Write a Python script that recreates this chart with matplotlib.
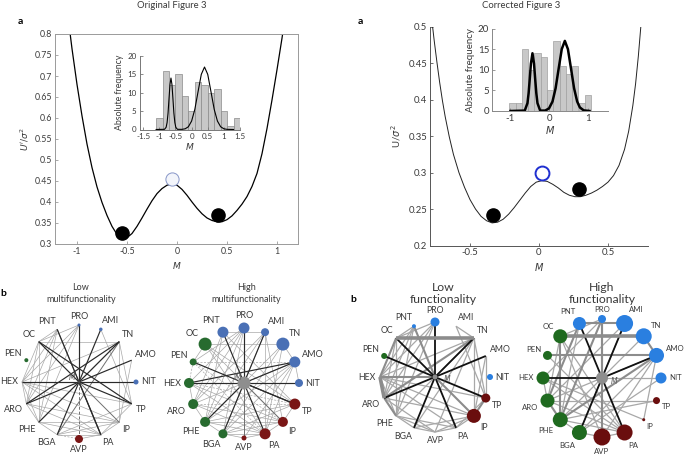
import matplotlib
matplotlib.use('Agg')
import matplotlib.pyplot as plt
from matplotlib.patches import Circle
import numpy as np

plt.rcParams['font.family'] = ['Lato', 'DejaVu Sans']
plt.rcParams['axes.unicode_minus'] = False
plt.rcParams['mathtext.fontset'] = 'dejavusans'

TXT = '#3a3a3a'

# ---------------- panel a data ----------------
orig_M = [-1.10, -1.05, -1.00, -0.95, -0.90, -0.85, -0.80, -0.75, -0.70, -0.65, -0.60,
          -0.55, -0.50, -0.45, -0.40, -0.35, -0.30, -0.25, -0.20, -0.15, -0.10, -0.05,
          0.00, 0.05, 0.10, 0.15, 0.20, 0.25, 0.30, 0.35, 0.40, 0.45, 0.50, 0.55,
          0.60, 0.65, 0.70, 0.75, 0.80, 0.85, 0.90, 0.95, 1.00, 1.05, 1.10]
orig_U = [0.86, 0.765, 0.68, 0.605, 0.538, 0.482, 0.436, 0.399, 0.368, 0.342, 0.323,
          0.313, 0.315, 0.325, 0.342, 0.362, 0.383, 0.403, 0.42, 0.432, 0.44, 0.443,
          0.44, 0.43, 0.416, 0.40, 0.385, 0.372, 0.362, 0.356, 0.353, 0.353, 0.358, 0.367,
          0.38, 0.395, 0.413, 0.437, 0.468, 0.515, 0.575, 0.643, 0.715, 0.79, 0.87]
orig_stable_M = [-0.55, 0.41]
orig_stable_U = [0.327, 0.369]
orig_unstable = (-0.05, 0.455)

corr_M = [-0.78, -0.76, -0.74, -0.72, -0.70, -0.68, -0.65, -0.62, -0.58, -0.54, -0.50,
          -0.46, -0.42, -0.38, -0.34, -0.30, -0.26, -0.22, -0.18, -0.14, -0.10, -0.06,
          -0.02, 0.02, 0.06, 0.10, 0.14, 0.18, 0.22, 0.26, 0.30, 0.34, 0.38, 0.42,
          0.46, 0.50, 0.54, 0.58, 0.62, 0.65, 0.68, 0.70, 0.72, 0.74, 0.76]
corr_U = [0.515, 0.482, 0.452, 0.424, 0.399, 0.377, 0.349, 0.325, 0.300, 0.280, 0.263,
          0.250, 0.240, 0.234, 0.231, 0.232, 0.236, 0.243, 0.252, 0.262, 0.272, 0.281,
          0.287, 0.289, 0.288, 0.284, 0.279, 0.273, 0.269, 0.267, 0.267, 0.269, 0.272, 0.276,
          0.281, 0.287, 0.296, 0.310, 0.332, 0.357, 0.392, 0.422, 0.460, 0.505, 0.555]
corr_stable_M = [-0.33, 0.29]
corr_stable_U = [0.242, 0.277]
corr_unstable = (0.025, 0.299)

# inset histograms (bin left edges and counts)
orig_bins = [-1.1, -0.9, -0.7, -0.5, -0.3, -0.1, 0.1, 0.3, 0.5, 0.7, 0.9, 1.1, 1.3]
orig_counts = [3, 16, 12, 15, 9, 5, 13, 12, 10, 11, 5, 1, 3]
orig_fit_M = [-1.1, -0.84, -0.79, -0.76, -0.73, -0.70, -0.67, -0.64, -0.61, -0.58, -0.55,
              -0.52, -0.49, -0.44, -0.3, -0.2, -0.1, 0.0, 0.1, 0.2, 0.3, 0.4, 0.5, 0.6,
              0.7, 0.8, 0.9, 1.0, 1.1, 1.3]
orig_fit_f = [0, 0.05, 0.6, 1.9, 4.5, 8.5, 12.3, 14, 12.3, 8.5, 4.5, 1.9, 0.6, 0.05,
              0.04, 0.19, 0.75, 2.3, 5.5, 10.3, 15.0, 17, 15.0, 10.3, 5.5, 2.3, 0.75, 0.19, 0.04, 0]

corr_bins = [-1.03, -0.87, -0.70, -0.54, -0.38, -0.21, -0.05, 0.11, 0.28, 0.44, 0.60, 0.77, 0.93]
corr_counts = [2, 2, 15, 10, 14, 13, 5, 17, 11, 9, 11, 2, 4]
corr_fit_M = [-1.0, -0.63, -0.56, -0.53, -0.50, -0.47, -0.43, -0.39, -0.36, -0.33, -0.30,
              -0.23, -0.1, 0.0, 0.09, 0.17, 0.25, 0.33, 0.41, 0.49, 0.57, 0.65, 0.73, 0.8,
              0.9, 1.05]
corr_fit_f = [0, 0.1, 1.9, 4.3, 7.8, 11.5, 14, 11.5, 7.8, 4.3, 1.9, 0.1, 0.1, 0.64, 2.3,
              5.5, 10.3, 15, 17, 15, 10.3, 5.5, 2.3, 0.86, 0.15, 0]

# ---------------- panel b data ----------------
nodes = ['PRO', 'AMI', 'TN', 'AMO', 'NIT', 'TP', 'IP', 'PA',
         'AVP', 'BGA', 'PHE', 'ARO', 'HEX', 'PEN', 'OC', 'PNT']
groups = ['b', 'b', 'b', 'b', 'b', 'r', 'r', 'r', 'r', 'g', 'g', 'g', 'g', 'g', 'g', 'b']

orig_low_w = [3, 3.5, 0, 0, 5, 0, 0, 0, 8, 0, 0, 0, 0, 4, 0, 0]
orig_high_w = [11, 8, 13, 11, 8, 11, 10, 11, 5, 9, 10, 10, 10, 7, 13, 11]
corr_low_w = [9, 0, 0, 0, 6, 9, 14, 0, 0, 0, 0, 0, 0, 6, 0, 4]
corr_high_w = [8, 17, 16, 15, 11, 7, 3, 16, 17, 15, 15, 14, 13, 9, 14, 13]

# links: (from, to, strength, dashed)
orig_low_links = [
    ('M', 'PRO', 3, 0), ('M', 'AMI', 3, 0), ('M', 'TN', 3, 0), ('M', 'AMO', 3, 0),
    ('M', 'NIT', 3, 0), ('M', 'TP', 3, 0), ('M', 'IP', 2, 0), ('M', 'PA', 3, 0),
    ('M', 'AVP', 2, 1), ('M', 'BGA', 3, 0), ('M', 'PHE', 3, 0), ('M', 'ARO', 3, 0),
    ('M', 'HEX', 3, 0), ('M', 'OC', 3, 0), ('M', 'PNT', 2, 0),
    ('OC', 'TN', 1, 0), ('OC', 'HEX', 1, 0), ('OC', 'ARO', 1, 0), ('OC', 'PHE', 1, 0),
    ('OC', 'TP', 3, 0), ('OC', 'PRO', 1, 0), ('OC', 'PNT', 1, 0),
    ('PNT', 'HEX', 1, 0), ('PNT', 'ARO', 1, 0), ('PNT', 'PHE', 1, 0), ('PNT', 'PA', 3, 0),
    ('PRO', 'HEX', 1, 0), ('PRO', 'ARO', 1, 0), ('PRO', 'PHE', 1, 0),
    ('AMI', 'TP', 1, 0), ('TN', 'ARO', 3, 0), ('TN', 'PHE', 1, 0), ('TN', 'BGA', 2, 0),
    ('TN', 'IP', 1, 0), ('TN', 'TP', 1, 0), ('TN', 'HEX', 1, 0), ('AMO', 'IP', 1, 0),
    ('HEX', 'ARO', 1, 0), ('HEX', 'TP', 1, 0), ('HEX', 'IP', 1, 0), ('HEX', 'PA', 1, 0),
    ('HEX', 'PHE', 1, 0), ('ARO', 'PHE', 1, 0), ('ARO', 'IP', 1, 0), ('ARO', 'PA', 1, 0),
    ('PHE', 'BGA', 1, 0), ('PHE', 'PA', 1, 0), ('PHE', 'IP', 1, 0), ('BGA', 'TP', 1, 0),
    ('BGA', 'IP', 1, 0), ('BGA', 'PA', 1, 0), ('PA', 'TP', 1, 0), ('PA', 'IP', 1, 0),
    ('AVP', 'PA', 1, 0), ('BGA', 'AVP', 1, 1)]

orig_high_links = [
    ('M', 'PNT', 3, 0), ('M', 'PRO', 3, 0), ('M', 'AMI', 3, 0), ('M', 'AMO', 3, 0),
    ('M', 'NIT', 3, 0), ('M', 'TP', 3, 0), ('M', 'PA', 3, 0), ('M', 'BGA', 3, 0),
    ('M', 'PHE', 3, 0), ('M', 'HEX', 3, 0), ('M', 'IP', 2, 0), ('M', 'AVP', 2, 0),
    ('PEN', 'TP', 3, 0), ('HEX', 'AMO', 3, 0),
    ('PNT', 'AMI', 1, 0), ('OC', 'TN', 1, 0), ('OC', 'PEN', 1, 0), ('PEN', 'HEX', 1, 1),
    ('HEX', 'ARO', 1, 0), ('ARO', 'PHE', 1, 0), ('PHE', 'BGA', 1, 0), ('BGA', 'AVP', 1, 0),
    ('AVP', 'PA', 1, 0), ('PA', 'IP', 1, 0), ('IP', 'TP', 1, 0), ('NIT', 'AMO', 1, 0),
    ('AMO', 'TN', 1, 0), ('PRO', 'BGA', 1, 0), ('PRO', 'PHE', 1, 0), ('PRO', 'ARO', 1, 0),
    ('PRO', 'HEX', 1, 0), ('PRO', 'PEN', 1, 0), ('AMI', 'BGA', 1, 0), ('AMI', 'PHE', 1, 0),
    ('AMI', 'ARO', 1, 0), ('AMI', 'PA', 1, 0), ('AMI', 'IP', 1, 0), ('AMO', 'BGA', 1, 0),
    ('AMO', 'PHE', 1, 0), ('AMO', 'ARO', 1, 0), ('AMO', 'PA', 1, 0), ('AMO', 'AVP', 1, 0),
    ('TN', 'BGA', 1, 0), ('TN', 'PHE', 1, 0), ('OC', 'TP', 1, 0), ('OC', 'IP', 1, 0),
    ('OC', 'PA', 1, 0), ('PEN', 'IP', 1, 1), ('PEN', 'PA', 1, 1), ('PEN', 'AMO', 1, 1),
    ('HEX', 'TP', 1, 1), ('HEX', 'IP', 1, 0), ('HEX', 'PA', 1, 0), ('HEX', 'NIT', 1, 1),
    ('ARO', 'TP', 1, 1), ('ARO', 'IP', 1, 0), ('ARO', 'PA', 1, 0), ('PHE', 'TP', 1, 0),
    ('PHE', 'IP', 1, 0), ('PHE', 'PA', 1, 0), ('BGA', 'TP', 1, 0), ('BGA', 'IP', 1, 0),
    ('BGA', 'PA', 1, 0), ('PNT', 'ARO', 1, 0), ('PNT', 'PHE', 1, 0), ('PNT', 'TP', 1, 0),
    ('PRO', 'AVP', 1, 0), ('TN', 'PA', 1, 0)]

corr_low_links = [
    ('M', 'PRO', 3, 0), ('M', 'TN', 3, 0), ('M', 'AMO', 3, 0), ('M', 'TP', 3, 0),
    ('M', 'PA', 3, 0), ('M', 'BGA', 3, 0), ('M', 'ARO', 3, 0), ('M', 'PEN', 3, 0),
    ('M', 'OC', 3, 0), ('M', 'HEX', 2, 0), ('M', 'PNT', 2, 0), ('M', 'IP', 2, 0),
    ('OC', 'TN', 4, 0), ('OC', 'PNT', 1, 0), ('OC', 'HEX', 2, 0), ('OC', 'ARO', 1, 0),
    ('OC', 'PHE', 1, 0), ('PNT', 'HEX', 1, 0), ('PNT', 'ARO', 1, 0), ('PNT', 'PHE', 1, 0),
    ('PRO', 'HEX', 1, 0), ('PRO', 'ARO', 1, 0), ('PRO', 'OC', 1, 0), ('PRO', 'PHE', 1, 0),
    ('AMI', 'TP', 1, 0), ('AMI', 'TN', 1, 0), ('TN', 'HEX', 1, 0), ('TN', 'ARO', 2, 0),
    ('TN', 'PHE', 1, 0), ('TN', 'BGA', 1, 0), ('TN', 'IP', 1, 0), ('TN', 'AVP', 1, 0),
    ('TN', 'TP', 1, 0), ('AMO', 'IP', 1, 0), ('AMO', 'TP', 1, 0), ('HEX', 'ARO', 4, 0),
    ('HEX', 'PHE', 1, 0), ('HEX', 'TP', 1, 0), ('HEX', 'IP', 1, 0), ('HEX', 'PA', 1, 0),
    ('ARO', 'PHE', 2, 0), ('ARO', 'IP', 1, 0), ('ARO', 'AVP', 1, 0), ('PHE', 'BGA', 1, 0),
    ('PHE', 'PA', 1, 0), ('PHE', 'AVP', 1, 0), ('BGA', 'AVP', 1, 0), ('BGA', 'IP', 1, 0),
    ('AVP', 'PA', 1, 0), ('AVP', 'IP', 1, 0), ('PA', 'TP', 1, 0), ('PA', 'IP', 1, 0),
    ('TP', 'IP', 2, 0)]

corr_high_links = [
    ('M', 'PNT', 3, 0), ('M', 'AMI', 3, 0), ('M', 'AMO', 3, 0), ('M', 'HEX', 3, 0),
    ('M', 'BGA', 3, 0), ('M', 'PA', 3, 0), ('M', 'PRO', 2, 0), ('M', 'NIT', 1, 0),
    ('OC', 'TN', 4, 0), ('PNT', 'AMI', 2, 0), ('PRO', 'AVP', 2, 0), ('PNT', 'ARO', 2, 0),
    ('PNT', 'PHE', 1, 0), ('PRO', 'OC', 1, 0), ('PRO', 'HEX', 1, 0), ('PRO', 'PHE', 2, 0),
    ('AMI', 'BGA', 1, 0), ('AMI', 'ARO', 1, 0), ('AMO', 'PEN', 2, 0), ('AMO', 'ARO', 1, 0),
    ('AMO', 'PHE', 2, 0), ('AMO', 'BGA', 1, 0), ('AMO', 'AVP', 1, 0), ('AMO', 'IP', 1, 0),
    ('AMO', 'TN', 2, 0), ('TP', 'PHE', 1, 0), ('TP', 'ARO', 1, 0), ('OC', 'PHE', 2, 0),
    ('OC', 'ARO', 1, 0), ('HEX', 'ARO', 1, 0), ('ARO', 'PHE', 2, 0), ('PHE', 'BGA', 1, 0),
    ('BGA', 'AVP', 1, 0), ('AVP', 'PA', 1, 0), ('HEX', 'PA', 1, 0), ('HEX', 'IP', 1, 0),
    ('ARO', 'PA', 1, 0), ('PHE', 'PA', 1, 0), ('OC', 'PA', 1, 0), ('OC', 'AVP', 1, 0),
    ('PEN', 'PA', 1, 0), ('NIT', 'BGA', 1, 0), ('TN', 'PHE', 1, 0)]

# ---------------- figure ----------------
W, H = 685, 454
fig = plt.figure(figsize=(6.85, 4.54), dpi=100)


def box(x0, y0, x1, y1):
    # pixel box (top-left origin) -> figure fraction rect
    return [x0 / W, 1 - y1 / H, (x1 - x0) / W, (y1 - y0) / H]


def style_axes(ax, fs, spine_col, pad=2):
    for s in ax.spines.values():
        s.set_color(spine_col)
        s.set_linewidth(0.7)
    ax.tick_params(direction='in', length=2.5, width=0.6, colors=spine_col,
                   labelsize=fs, labelcolor=TXT, pad=pad)


# --- original a ---
ax1 = fig.add_axes(box(55, 34, 298, 244))
ax1.plot(orig_M, orig_U, color='black', lw=0.9)
ax1.plot(orig_stable_M, orig_stable_U, 'o', ms=9.5, color='black')
ax1.plot([orig_unstable[0]], [orig_unstable[1]], 'o', ms=9.5, mfc='#f3f5fb',
         mec='#8796c8', mew=0.7)
ax1.set_xlim(-1.22, 1.21)
ax1.set_ylim(0.3, 0.8)
ax1.set_xticks([-1, -0.5, 0, 0.5, 1])
ax1.set_xticklabels(['-1', '-0.5', '0', '0.5', '1'])
yt = [0.3, 0.35, 0.4, 0.45, 0.5, 0.55, 0.6, 0.65, 0.7, 0.75, 0.8]
ax1.set_yticks(yt)
ax1.set_yticklabels(['%g' % v for v in yt])
style_axes(ax1, 6.3, '#9a9a9a')
ax1.set_xlabel('$M$', fontsize=6.5, color=TXT, labelpad=3)
ax1.set_ylabel(r"$U'/\sigma^2$", fontsize=6.5, color=TXT, labelpad=3)

ins1 = fig.add_axes(box(140, 56, 240, 129.5))
ins1.bar(orig_bins, orig_counts, width=0.2, align='edge', color='#c8c8c8',
         edgecolor='#8a8a8a', lw=0.5)
ins1.plot(orig_fit_M, orig_fit_f, color='black', lw=0.8)
ins1.set_xlim(-1.6, 1.5)
ins1.set_ylim(0, 20)
ins1.set_xticks([-1.5, -1, -0.5, 0, 0.5, 1, 1.5])
ins1.set_xticklabels(['-1.5', '-1', '-0.5', '0', '0.5', '1', '1.5'])
ins1.set_yticks([0, 5, 10, 15, 20])
ins1.spines['top'].set_visible(False)
ins1.spines['right'].set_visible(False)
style_axes(ins1, 5.8, '#777777', pad=2.5)
ins1.patch.set_alpha(0)
ins1.set_xlabel('$M$', fontsize=6.5, color=TXT, labelpad=1)
ins1.set_ylabel('Absolute frequency', fontsize=6.3, color=TXT, labelpad=2)

# --- corrected a ---
ax2 = fig.add_axes(box(430, 27, 648, 245.5))
ax2.plot(corr_M, corr_U, color='#222222', lw=0.7)
ax2.plot(corr_stable_M, corr_stable_U, 'o', ms=9.5, color='black')
ax2.plot([corr_unstable[0]], [corr_unstable[1]], 'o', ms=10, mfc='white',
         mec='#1f2fd0', mew=1.4)
ax2.set_xlim(-0.79, 0.79)
ax2.set_ylim(0.2, 0.5)
ax2.set_xticks([-0.5, 0, 0.5])
ax2.set_xticklabels(['-0.5', '0', '0.5'])
yt2 = [0.2, 0.25, 0.3, 0.35, 0.4, 0.45, 0.5]
ax2.set_yticks(yt2)
ax2.set_yticklabels(['%g' % v for v in yt2])
ax2.spines['top'].set_visible(False)
ax2.spines['right'].set_visible(False)
style_axes(ax2, 6.8, '#555555')
ax2.set_xlabel('$M$', fontsize=7, color=TXT, labelpad=3)
ax2.set_ylabel(r'U/$\sigma^2$', fontsize=7, color=TXT, labelpad=4)

ins2 = fig.add_axes(box(492, 28.5, 608, 111))
ins2.bar(corr_bins, corr_counts, width=0.163, align='edge', color='#c8c8c8',
         edgecolor='#a0a0a0', lw=0.5)
ins2.plot(corr_fit_M, corr_fit_f, color='black', lw=1.8)
ins2.set_xlim(-1.48, 1.53)
ins2.set_ylim(0, 20)
ins2.set_xticks([-1, 0, 1])
ins2.set_xticklabels(['-1', '0', '1'])
ins2.set_yticks([0, 5, 10, 15, 20])
ins2.spines['top'].set_visible(False)
ins2.spines['right'].set_visible(False)
style_axes(ins2, 7, '#888888')
ins2.patch.set_alpha(0)
ins2.set_xlabel('$M$', fontsize=7, color=TXT, labelpad=1)
ins2.set_ylabel('Absolute frequency', fontsize=7, color=TXT, labelpad=2)

# --- titles and panel letters ---
fig.text(171.5 / W, 1 - 6 / H, 'Original Figure 3', ha='center', va='center',
         fontsize=6.8, color=TXT)
fig.text(521.5 / W, 1 - 6 / H, 'Corrected Figure 3', ha='center', va='center',
         fontsize=6.8, color=TXT)
fig.text(20.5 / W, 1 - 21 / H, 'a', fontsize=7.5, fontweight='bold', ha='center', va='center')
fig.text(360.5 / W, 1 - 21 / H, 'a', fontsize=7.5, fontweight='bold', ha='center', va='center')
fig.text(3 / W, 1 - 293 / H, 'b', fontsize=7.5, fontweight='bold', ha='center', va='center')
fig.text(353 / W, 1 - 300 / H, 'b', fontsize=7.5, fontweight='bold', ha='center', va='center')

# --- networks (pixel coordinates) ---
axn = fig.add_axes(box(0, 270, 685, 454))
axn.set_xlim(0, W)
axn.set_ylim(454, 270)
axn.axis('off')

orig_cols = {'b': '#4a70b5', 'r': '#7a1616', 'g': '#276b2f'}
corr_cols = {'b': '#2a7fe0', 'r': '#6a0e0e', 'g': '#1f6a1f'}
orig_edge = {1: ('#a8a8a8', 0.5), 2: ('#707070', 0.7), 3: ('#2a2a2a', 0.85)}
corr_edge = {1: ('#a8a8a8', 0.9), 2: ('#8c8c8c', 1.5), 3: ('#111111', 1.3), 4: ('#8c8c8c', 2.6)}


def draw_net(cx, cy, r, weights, links, cols, edge_sty, hub, lab_fs, m_off):
    pos = {'M': (cx, cy)}
    ang = {}
    for i, name in enumerate(nodes):
        a = np.deg2rad(90 - 22.5 * i)
        ang[name] = a
        pos[name] = (cx + r * np.cos(a), cy - r * np.sin(a))
    for a, b, s, d in sorted(links, key=lambda t: t[2]):
        c, lw = edge_sty[s]
        axn.plot([pos[a][0], pos[b][0]], [pos[a][1], pos[b][1]], color=c, lw=lw,
                 ls=(0, (3, 2)) if d else '-', zorder=1 + s * 0.1, solid_capstyle='butt')
    for i, name in enumerate(nodes):
        x, y = pos[name]
        rad = weights[i] / 2.0
        if rad > 0:
            axn.add_patch(Circle((x, y), rad, color=cols[groups[i]], zorder=3, lw=0))
        a = ang[name]
        ca, sa = np.cos(a), np.sin(a)
        gap = max(rad, 1.5) + 2.5
        ha = 'left' if ca > 0.35 else ('right' if ca < -0.35 else 'center')
        va = 'bottom' if sa > 0.35 else ('top' if sa < -0.35 else 'center')
        axn.text(x + gap * ca, y - gap * sa, name, ha=ha, va=va, fontsize=lab_fs,
                 color=TXT, zorder=4)
    hs, hc = hub
    axn.add_patch(Circle((cx, cy), hs / 2.0, color=hc, zorder=3, lw=0))
    axn.text(cx + m_off[0], cy + m_off[1], '$M$', fontsize=5.5, color='#555555',
             ha='center', va='center', zorder=4)


draw_net(79, 382, 57, orig_low_w, orig_low_links, orig_cols, orig_edge,
         (3, '#444444'), 6.5, (-7, -5))
draw_net(244, 383, 55, orig_high_w, orig_high_links, orig_cols, orig_edge,
         (13, '#8e8e8e'), 6.5, (-6, -7))
draw_net(435, 377, 55, corr_low_w, corr_low_links, corr_cols, corr_edge,
         (5, '#8e8e8e'), 6.3, (12, 2))
draw_net(602, 378, 59, corr_high_w, corr_high_links, corr_cols, corr_edge,
         (12, '#8e8e8e'), 5.6, (12, 3))

fig.text(81 / W, 1 - 293.5 / H, 'Low\nmultifunctionality', ha='center', va='center',
         fontsize=6.5, color=TXT, linespacing=1.3)
fig.text(246 / W, 1 - 293.5 / H, 'High\nmultifunctionality', ha='center', va='center',
         fontsize=6.5, color=TXT, linespacing=1.3)
fig.text(443 / W, 1 - 293.5 / H, 'Low\nfunctionality', ha='center', va='center',
         fontsize=8.8, color=TXT, linespacing=1.2)
fig.text(602 / W, 1 - 293.5 / H, 'High\nfunctionality', ha='center', va='center',
         fontsize=8.8, color=TXT, linespacing=1.2)

fig.savefig('out.png', dpi=100)
